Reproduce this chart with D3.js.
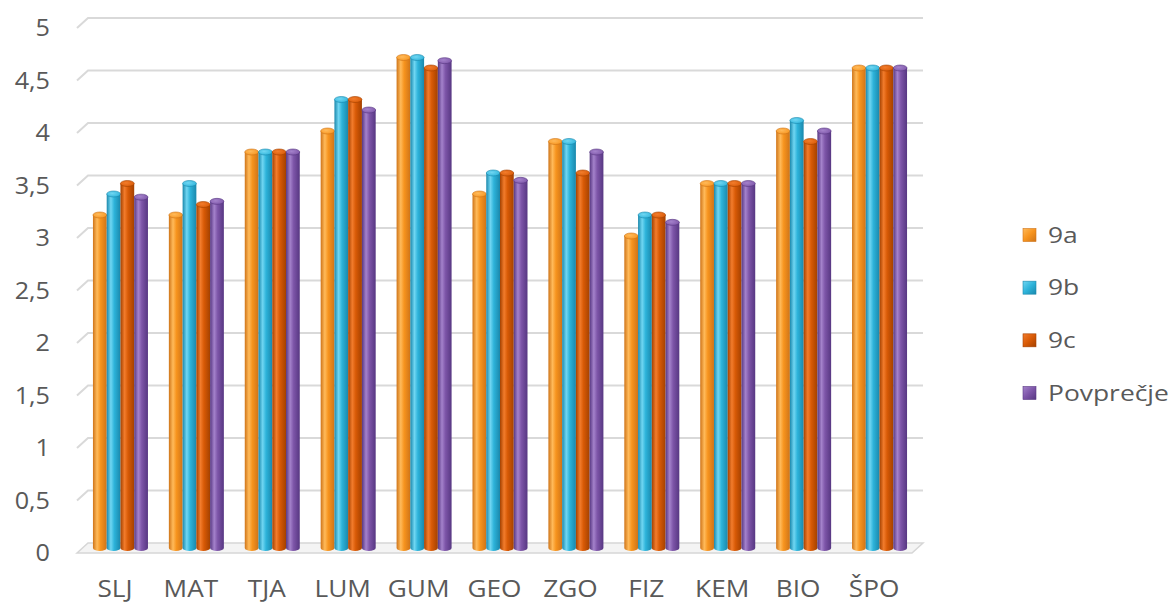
<!DOCTYPE html>
<html><head><meta charset="utf-8">
<script src="https://cdn.jsdelivr.net/npm/d3@7"></script>
<style>html,body{margin:0;padding:0;background:#fff;}svg{display:block;}</style>
</head><body>
<script>
const categories = ["SLJ","MAT","TJA","LUM","GUM","GEO","ZGO","FIZ","KEM","BIO","ŠPO"];
const seriesNames = ["9a","9b","9c","Povprečje"];
const s9a = [3.2,3.2,3.8,4.0,4.7,3.4,3.9,3.0,3.5,4.0,4.6];
const s9b = [3.4,3.5,3.8,4.3,4.7,3.6,3.9,3.2,3.5,4.1,4.6];
const s9c = [3.5,3.3,3.8,4.3,4.6,3.6,3.6,3.2,3.5,3.9,4.6];
const sAvg = [3.37,3.33,3.8,4.2,4.67,3.53,3.8,3.13,3.5,4.0,4.6];
const tickValues = [0,0.5,1,1.5,2,2.5,3,3.5,4,4.5,5];
const tickLabels = ["0","0,5","1","1,5","2","2,5","3","3,5","4","4,5","5"];
const seriesValues = [s9a,s9b,s9c,sAvg];
const colors = [
  {base:"#F7941E", light:"#FFBA5A", dark:"#CF7418"},
  {base:"#2DB3DA", light:"#70D6F2", dark:"#1A88AC"},
  {base:"#D85A06", light:"#F27C2C", dark:"#A44100"},
  {base:"#7D55A8", light:"#A482CB", dark:"#573782"}
];

const W=1174,H=603;
const svg=d3.select("body").append("svg").attr("width",W).attr("height",H);
const defs=svg.append("defs");
colors.forEach((c,i)=>{
  const g=defs.append("linearGradient").attr("id","g"+i).attr("x1","0").attr("x2","1").attr("y1","0").attr("y2","0");
  g.append("stop").attr("offset","0").attr("stop-color",c.dark);
  g.append("stop").attr("offset","0.3").attr("stop-color",c.light);
  g.append("stop").attr("offset","0.55").attr("stop-color",c.base);
  g.append("stop").attr("offset","1").attr("stop-color",c.dark);
  const r=defs.append("radialGradient").attr("id","r"+i).attr("cx","0.4").attr("cy","0.4").attr("r","0.7");
  r.append("stop").attr("offset","0").attr("stop-color",c.light);
  r.append("stop").attr("offset","1").attr("stop-color",c.base);
  const l=defs.append("linearGradient").attr("id","l"+i).attr("x1","0").attr("x2","1").attr("y1","0").attr("y2","1");
  l.append("stop").attr("offset","0").attr("stop-color",c.light);
  l.append("stop").attr("offset","0.5").attr("stop-color",c.base);
  l.append("stop").attr("offset","1").attr("stop-color",c.dark);
});

const depthX=11, depthY=-10;
const y=d3.scaleLinear().domain([0,5]).range([553,28]);
const x=d3.scaleBand().domain(categories).range([77,912]).paddingInner(0).paddingOuter(0);
const groupW=55;
const xs=d3.scaleBand().domain(seriesNames).range([0,groupW]).padding(0);

// floor
svg.append("path")
  .attr("d",`M${x.range()[0]},${y(0)} L${x.range()[0]+depthX},${y(0)+depthY} L${x.range()[1]+depthX},${y(0)+depthY} L${x.range()[1]},${y(0)} Z`)
  .attr("fill","#f4f4f4").attr("stroke","#d6d6d6").attr("stroke-width",1.5);

// gridlines (back wall + side diagonal)
const grid=svg.append("g");
tickValues.forEach(v=>{
  if(v===0) return;
  grid.append("path")
    .attr("d",`M${x.range()[0]},${y(v)} L${x.range()[0]+depthX},${y(v)+depthY} L${x.range()[1]+depthX},${y(v)+depthY}`)
    .attr("fill","none").attr("stroke","#d9d9d9").attr("stroke-width",2);
});

// bars
const bars=svg.append("g");
const mx=depthX/2, my=depthY/2;
categories.forEach((cat,ci)=>{
  const gx=x(cat)+x.bandwidth()/2-groupW/2+mx;
  seriesNames.forEach((s,si)=>{
    const v=seriesValues[si][ci];
    const bx=gx+xs(s), bw=xs.bandwidth();
    const top=y(v)+my, base=y(0)+my;
    const ry=3;
    bars.append("path")
      .attr("d",`M${bx},${top+ry} L${bx},${base} A${bw/2},${ry} 0 0 0 ${bx+bw},${base} L${bx+bw},${top+ry} Z`)
      .attr("fill",`url(#g${si})`);
    bars.append("ellipse")
      .attr("cx",bx+bw/2).attr("cy",top+ry).attr("rx",bw/2).attr("ry",ry)
      .attr("fill",`url(#r${si})`).attr("stroke",colors[si].dark).attr("stroke-width",0.6);
  });
});

function stretch(sel,f){
  sel.each(function(){
    const w=this.getComputedTextLength();
    d3.select(this).attr("textLength",w*f).attr("lengthAdjust","spacingAndGlyphs");
  });
}

// y tick labels
const font="'Open Sans', 'Noto Sans', sans-serif";
const yl=svg.append("g").selectAll("text").data(tickValues).join("text")
  .attr("x",50).attr("y",d=>y(d)).attr("dy","0.35em")
  .attr("text-anchor","end").attr("font-family",font).attr("font-size",24).attr("fill","#595959")
  .text((d,i)=>tickLabels[i]);
stretch(yl,1.05);

// x labels
const xl=svg.append("g").selectAll("text").data(categories).join("text")
  .attr("x",d=>x(d)+x.bandwidth()/2).attr("y",597)
  .attr("text-anchor","middle").attr("font-family",font).attr("font-size",23).attr("fill","#595959")
  .text(d=>d);
stretch(xl,1.14);

// legend
const lg=svg.append("g");
const ly=d3.scalePoint().domain(seriesNames).range([235,393]);
seriesNames.forEach((s,i)=>{
  lg.append("rect").attr("x",1023).attr("y",ly(s)-6.5).attr("width",13).attr("height",13)
    .attr("fill",`url(#l${i})`).attr("stroke",colors[i].dark).attr("stroke-width",0.6);
  const t=lg.append("text").attr("x",1048).attr("y",ly(s)).attr("dy","0.35em")
    .attr("font-family",font).attr("font-size",22).attr("fill","#595959").text(s);
  stretch(t,1.2);
});
</script>
</body></html>
